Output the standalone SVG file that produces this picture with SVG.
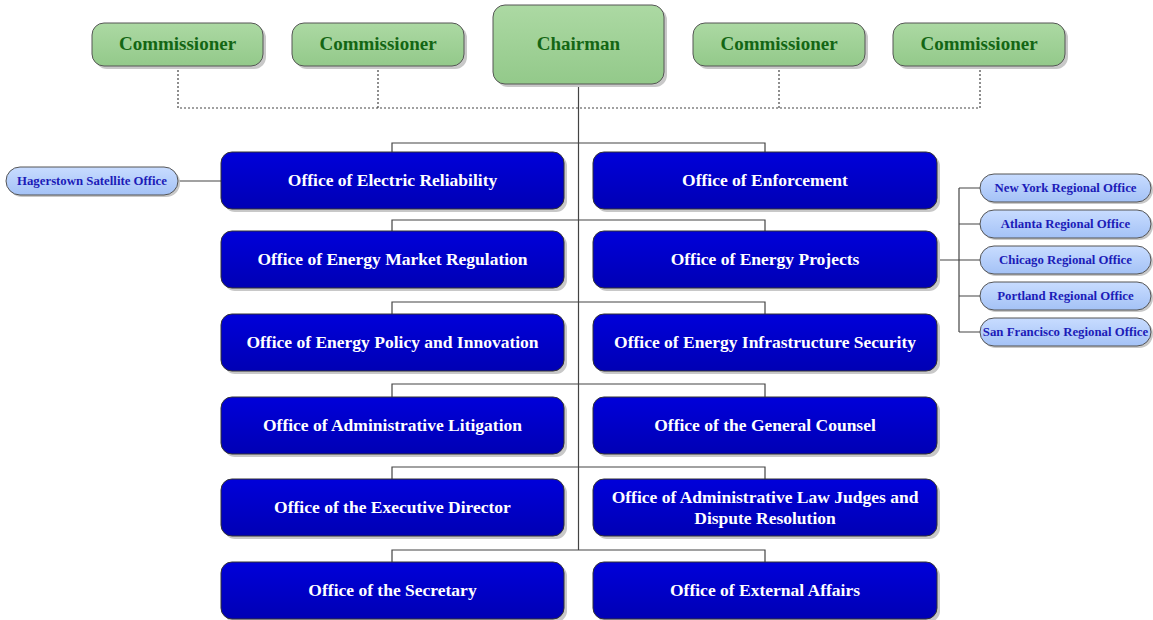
<svg xmlns="http://www.w3.org/2000/svg" width="1153" height="620" viewBox="0 0 1153 620">
<defs>
<linearGradient id="gGreen" x1="0" y1="0" x2="0" y2="1"><stop offset="0" stop-color="#ACD9A3"/><stop offset="1" stop-color="#93C98A"/></linearGradient>
<linearGradient id="gBlue" x1="0" y1="0" x2="0" y2="1"><stop offset="0" stop-color="#0000DA"/><stop offset="1" stop-color="#0000B4"/></linearGradient>
<linearGradient id="gPill" x1="0" y1="0" x2="0" y2="1"><stop offset="0" stop-color="#C8DCFF"/><stop offset="1" stop-color="#A4C2F6"/></linearGradient>
<style>
.sh{fill:#C8C8C8}
.green{fill:url(#gGreen);stroke:#555;stroke-width:1}
.blue{fill:url(#gBlue);stroke:#333;stroke-width:1}
.pill{fill:url(#gPill);stroke:#555;stroke-width:1}
.tg{font-family:"Liberation Serif","Times New Roman",serif;font-weight:bold;font-size:19px;fill:#146614;text-anchor:middle}
.tw{font-family:"Liberation Serif","Times New Roman",serif;font-weight:bold;font-size:17.5px;fill:#FFFFFF;text-anchor:middle}
.tp{font-family:"Liberation Serif","Times New Roman",serif;font-weight:bold;font-size:12.8px;fill:#1C1CB8;text-anchor:middle}
.ln{fill:none;stroke:#444;stroke-width:1.2}
.dot{fill:none;stroke:#444;stroke-width:1.2;stroke-dasharray:2 2}
</style>
</defs>
<g id="connectors">
<path class="dot" d="M178,66 V108 H980 V66 M378,66 V108 M779,66 V108"/>
<path class="ln" d="M578.5,84 V550"/>
<path class="ln" d="M392,152 V143 H765 V152"/>
<path class="ln" d="M392,231 V220 H765 V231"/>
<path class="ln" d="M392,314 V302 H765 V314"/>
<path class="ln" d="M392,397 V384 H765 V397"/>
<path class="ln" d="M392,479 V467 H765 V479"/>
<path class="ln" d="M392,562 V550 H765 V562"/>
<path class="ln" d="M178,181 H221"/>
<path class="ln" d="M937,260 H959 M959,188 V332 M959,188 H980 M959,224 H980 M959,260 H980 M959,296 H980 M959,332 H980"/>
</g>
<g id="commissioner1"><rect class="sh" x="95" y="26" width="171" height="43" rx="12"/><rect class="green" x="92" y="23" width="171" height="43" rx="12"/><text class="tg" x="177.5" y="50">Commissioner</text></g>
<g id="commissioner2"><rect class="sh" x="295" y="26" width="172" height="43" rx="12"/><rect class="green" x="292" y="23" width="172" height="43" rx="12"/><text class="tg" x="378" y="50">Commissioner</text></g>
<g id="chairman"><rect class="sh" x="496" y="8" width="171" height="79" rx="12"/><rect class="green" x="493" y="5" width="171" height="79" rx="12"/><text class="tg" x="578.5" y="50">Chairman</text></g>
<g id="commissioner3"><rect class="sh" x="696" y="26" width="172" height="43" rx="12"/><rect class="green" x="693" y="23" width="172" height="43" rx="12"/><text class="tg" x="779" y="50">Commissioner</text></g>
<g id="commissioner4"><rect class="sh" x="896" y="26" width="172" height="43" rx="12"/><rect class="green" x="893" y="23" width="172" height="43" rx="12"/><text class="tg" x="979" y="50">Commissioner</text></g>

<g id="electric"><rect class="sh" x="224" y="155" width="343" height="57" rx="11"/><rect class="blue" x="221" y="152" width="343" height="57" rx="11"/><text class="tw" x="392.5" y="185.5">Office of Electric Reliability</text></g>
<g id="enforcement"><rect class="sh" x="596" y="155" width="344" height="57" rx="11"/><rect class="blue" x="593" y="152" width="344" height="57" rx="11"/><text class="tw" x="765" y="185.5">Office of Enforcement</text></g>
<g id="market"><rect class="sh" x="224" y="234" width="343" height="57" rx="11"/><rect class="blue" x="221" y="231" width="343" height="57" rx="11"/><text class="tw" x="392.5" y="264.5">Office of Energy Market Regulation</text></g>
<g id="projects"><rect class="sh" x="596" y="234" width="344" height="57" rx="11"/><rect class="blue" x="593" y="231" width="344" height="57" rx="11"/><text class="tw" x="765" y="264.5">Office of Energy Projects</text></g>
<g id="policy"><rect class="sh" x="224" y="317" width="343" height="57" rx="11"/><rect class="blue" x="221" y="314" width="343" height="57" rx="11"/><text class="tw" x="392.5" y="347.5">Office of Energy Policy and Innovation</text></g>
<g id="infrastructure"><rect class="sh" x="596" y="317" width="344" height="57" rx="11"/><rect class="blue" x="593" y="314" width="344" height="57" rx="11"/><text class="tw" x="765" y="347.5">Office of Energy Infrastructure Security</text></g>
<g id="litigation"><rect class="sh" x="224" y="400" width="343" height="57" rx="11"/><rect class="blue" x="221" y="397" width="343" height="57" rx="11"/><text class="tw" x="392.5" y="430.5">Office of Administrative Litigation</text></g>
<g id="counsel"><rect class="sh" x="596" y="400" width="344" height="57" rx="11"/><rect class="blue" x="593" y="397" width="344" height="57" rx="11"/><text class="tw" x="765" y="430.5">Office of the General Counsel</text></g>
<g id="executive"><rect class="sh" x="224" y="482" width="343" height="57" rx="11"/><rect class="blue" x="221" y="479" width="343" height="57" rx="11"/><text class="tw" x="392.5" y="512.5">Office of the Executive Director</text></g>
<g id="aljdr"><rect class="sh" x="596" y="482" width="344" height="57" rx="11"/><rect class="blue" x="593" y="479" width="344" height="57" rx="11"/><text class="tw" x="765" y="502.5">Office of Administrative Law Judges and</text><text class="tw" x="765" y="523.5">Dispute Resolution</text></g>
<g id="secretary"><rect class="sh" x="224" y="565" width="343" height="57" rx="11"/><rect class="blue" x="221" y="562" width="343" height="57" rx="11"/><text class="tw" x="392.5" y="595.5">Office of the Secretary</text></g>
<g id="external"><rect class="sh" x="596" y="565" width="344" height="57" rx="11"/><rect class="blue" x="593" y="562" width="344" height="57" rx="11"/><text class="tw" x="765" y="595.5">Office of External Affairs</text></g>

<g id="hagerstown"><rect class="sh" x="8" y="169" width="172" height="28" rx="14"/><rect class="pill" x="6" y="167" width="172" height="28" rx="14"/><text class="tp" x="92" y="185">Hagerstown Satellite Office</text></g>
<g id="newyork"><rect class="sh" x="982" y="176" width="171" height="28" rx="14"/><rect class="pill" x="980" y="174" width="171" height="28" rx="14"/><text class="tp" x="1065.5" y="192">New York Regional Office</text></g>
<g id="atlanta"><rect class="sh" x="982" y="212" width="171" height="28" rx="14"/><rect class="pill" x="980" y="210" width="171" height="28" rx="14"/><text class="tp" x="1065.5" y="228">Atlanta Regional Office</text></g>
<g id="chicago"><rect class="sh" x="982" y="248" width="171" height="28" rx="14"/><rect class="pill" x="980" y="246" width="171" height="28" rx="14"/><text class="tp" x="1065.5" y="264">Chicago Regional Office</text></g>
<g id="portland"><rect class="sh" x="982" y="284" width="171" height="28" rx="14"/><rect class="pill" x="980" y="282" width="171" height="28" rx="14"/><text class="tp" x="1065.5" y="300">Portland Regional Office</text></g>
<g id="sanfrancisco"><rect class="sh" x="982" y="320" width="171" height="28" rx="14"/><rect class="pill" x="980" y="318" width="171" height="28" rx="14"/><text class="tp" x="1065.5" y="336">San Francisco Regional Office</text></g>
</svg>
